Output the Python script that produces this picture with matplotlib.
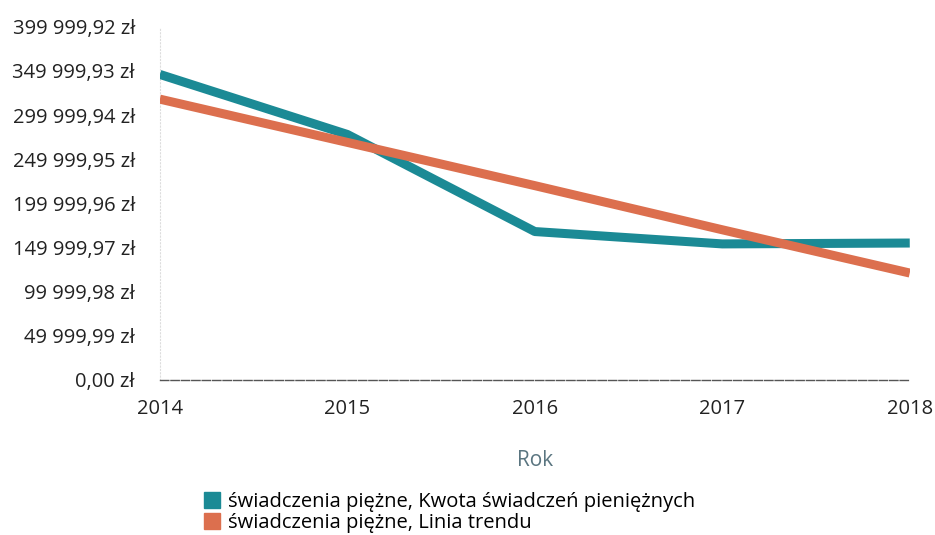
import matplotlib
matplotlib.use('Agg')
import matplotlib.pyplot as plt
from matplotlib.lines import Line2D

plt.rcParams['font.family'] = ['Open Sans', 'DejaVu Sans']

years = [2014, 2015, 2016, 2017, 2018]
amount = [346000, 278000, 168000, 154000, 155000]
trend = [318000, 269000, 220000, 170000, 121000]

y_ticks = [0, 49999.99, 99999.98, 149999.97, 199999.96, 249999.95,
           299999.94, 349999.93, 399999.92]

label_amount = "świadczenia piężne, Kwota świadczeń pieniężnych"
label_trend = "świadczenia piężne, Linia trendu"

teal = '#1b8a95'
orange = '#dc6f4e'


def fmt_zl(v):
    s = f"{v:,.2f}"
    s = s.replace(',', ' ').replace('.', ',')
    return s + " zł"


fig = plt.figure(figsize=(9.35, 5.35), dpi=100)
ax = fig.add_axes([0.171, 0.29, 0.802, 0.66])

ax.plot(years, amount, color=teal, linewidth=6.5, solid_capstyle='butt',
        solid_joinstyle='round', label=label_amount, zorder=3)
ax.plot(years, trend, color=orange, linewidth=6.5, solid_capstyle='butt',
        label=label_trend, zorder=4)

ax.set_xlim(2014, 2018)
ax.set_ylim(0, 399999.92)
ax.set_yticks(y_ticks)
ax.set_yticklabels([fmt_zl(v) for v in y_ticks])
ax.set_xticks(years)
ax.set_xticklabels([str(y) for y in years])

for sp in ['top', 'right']:
    ax.spines[sp].set_visible(False)
ax.spines['left'].set_color('#dddddd')
ax.spines['left'].set_linestyle((0, (1, 2)))
ax.spines['left'].set_linewidth(0.8)
ax.spines['bottom'].set_color('#555555')
ax.spines['bottom'].set_linestyle((0, (6, 1.5)))
ax.spines['bottom'].set_linewidth(1.0)

ax.tick_params(axis='both', length=0, labelsize=14.5, colors='#222222')
ax.tick_params(axis='y', pad=18)
ax.tick_params(axis='x', pad=14)

ax.set_xlabel("Rok", fontsize=15, color='#5a7580', labelpad=22)

handles = [Line2D([], [], color=teal, marker='s', linestyle='none', markersize=11),
           Line2D([], [], color=orange, marker='s', linestyle='none', markersize=11)]
fig.legend(handles, [label_amount, label_trend], loc='upper left',
           bbox_to_anchor=(0.205, 0.1), frameon=False, fontsize=14.5,
           handletextpad=0.3, labelspacing=0.05, borderpad=0, handlelength=1.0)

fig.savefig('out.png', dpi=100)
